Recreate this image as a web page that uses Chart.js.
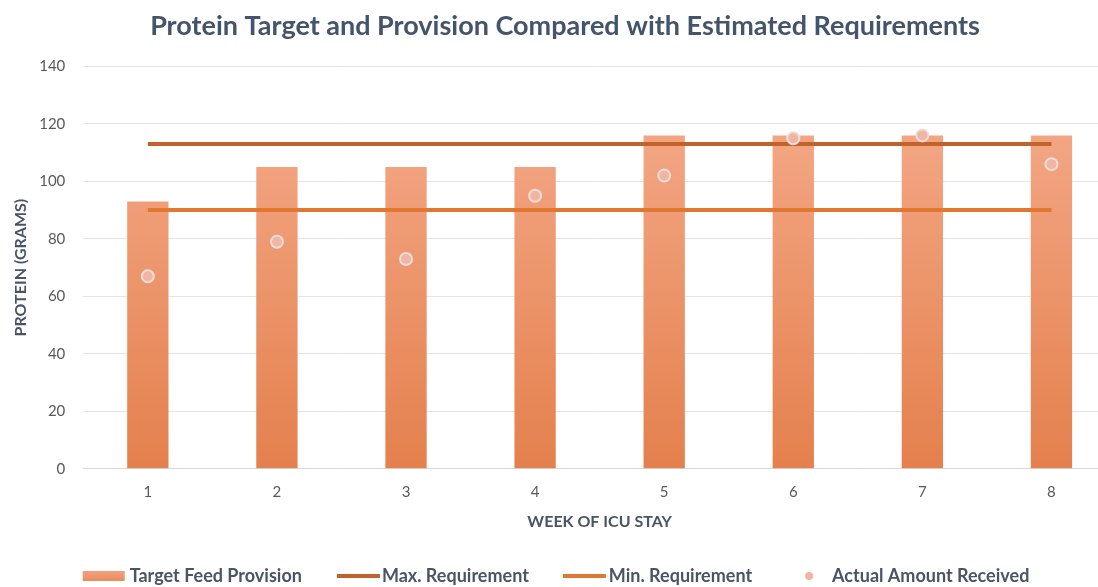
<!DOCTYPE html>
<html>
<head>
<meta charset="utf-8">
<script src="https://cdn.jsdelivr.net/npm/chart.js@4"></script>
<style>
  html, body { margin: 0; padding: 0; background: #fff; overflow: hidden; }
  #wrap { width: 1124px; height: 587px; }
</style>
</head>
<body>
<div id="wrap"><canvas id="protein-chart" width="1124" height="587"></canvas></div>
<script>
// --- DATA ---
const weeks = ['1', '2', '3', '4', '5', '6', '7', '8'];
const targetFeed = [93, 105, 105, 105, 116, 116, 116, 116];
const maxRequirement = [113, 113, 113, 113, 113, 113, 113, 113];
const minRequirement = [90, 90, 90, 90, 90, 90, 90, 90];
const actualReceived = [67, 79, 73, 95, 102, 115, 116, 106];
const yTicks = [0, 20, 40, 60, 80, 100, 120, 140];

const FONT = 'Lato, "Open Sans", sans-serif';
const TEXT_DARK = '#4A5466';
const MAX_COLOR = '#C1622B';
const MIN_COLOR = '#E2782F';
const POINT_FILL = '#F1B5A2';
const POINT_BORDER = '#E6DEDD';

function barGradient(context) {
    const chart = context.chart;
    const area = chart.chartArea;
    if (!area) return '#EE9A72';
    const g = chart.ctx.createLinearGradient(0, area.bottom, 0, area.top);
    g.addColorStop(0, '#E4804D');
    g.addColorStop(1, '#F6AD8E');
    return g;
}

// legend swatches: small canvases used as point styles (legend box is 20 wide, image 60)
const BOX_W = 20;
const IMG_W = 60;
function swatch(kind) {
    const c = document.createElement('canvas');
    c.width = IMG_W; c.height = 12;
    const x = c.getContext('2d');
    if (kind === 'bar') {
        const g = x.createLinearGradient(0, 12, 0, 0);
        g.addColorStop(0, '#E88A5A'); g.addColorStop(1, '#F3A483');
        x.fillStyle = g;
        x.fillRect(2, 1, 42, 10);
    } else if (kind === 'max') {
        x.fillStyle = MAX_COLOR;
        x.fillRect(4, 4, 43, 4);
    } else if (kind === 'min') {
        x.fillStyle = MIN_COLOR;
        x.fillRect(3, 4, 43, 4);
    } else {
        x.fillStyle = POINT_FILL;
        x.beginPath(); x.arc(26, 6, 4, 0, Math.PI * 2); x.fill();
    }
    return c;
}
const swatches = [swatch('bar'), swatch('max'), swatch('min'), swatch('pt')];

const ctx = document.getElementById('protein-chart').getContext('2d');
const proteinChart = new Chart(ctx, {
    data: {
        labels: weeks,
        datasets: [
            { type: 'bar', label: 'Target Feed Provision', data: targetFeed, backgroundColor: barGradient,
              barPercentage: 0.32, categoryPercentage: 1, order: 3 },
            { type: 'line', label: 'Max. Requirement', data: maxRequirement, borderColor: MAX_COLOR,
              borderWidth: 4, pointRadius: 0, order: 2 },
            { type: 'line', label: 'Min. Requirement', data: minRequirement, borderColor: MIN_COLOR,
              borderWidth: 4, pointRadius: 0, order: 1 },
            { type: 'line', label: 'Actual Amount Received', data: actualReceived, showLine: false,
              pointRadius: 6, pointBackgroundColor: POINT_FILL, pointBorderColor: POINT_BORDER,
              pointBorderWidth: 2, order: 0 }
        ]
    },
    options: {
        responsive: false,
        animation: false,
        layout: { padding: { top: 10, left: 11, right: 5, bottom: -8 } },
        plugins: {
            title: {
                display: true,
                text: 'Protein Target and Provision Compared with Estimated Requirements',
                color: '#44546A',
                font: { family: FONT, size: 27, weight: 'bold' },
                padding: { top: 0, bottom: 24 }
            },
            tooltip: { enabled: false },
            legend: {
                position: 'bottom',
                labels: {
                    usePointStyle: true,
                    pointStyleWidth: BOX_W,
                    boxHeight: 12,
                    padding: 51,
                    color: TEXT_DARK,
                    font: { family: FONT, size: 18, weight: 'bold' },
                    generateLabels: function(chart) {
                        return chart.data.datasets.map(function(ds, i) {
                            return {
                                text: ds.label, datasetIndex: i, pointStyle: swatches[i],
                                fillStyle: 'transparent', strokeStyle: 'transparent', lineWidth: 0,
                                fontColor: TEXT_DARK, hidden: false
                            };
                        });
                    }
                }
            }
        },
        scales: {
            x: {
                grid: { display: false, drawTicks: false },
                border: { display: true, color: '#D9D9D9', width: 1 },
                ticks: { color: '#595959', padding: 14, font: { family: FONT, size: 15 } },
                title: { display: true, text: 'WEEK OF ICU STAY', color: TEXT_DARK,
                         font: { family: FONT, size: 16, weight: 'bold' }, padding: { top: -3, bottom: -15 } }
            },
            y: {
                min: 0, max: 140,
                afterBuildTicks: function(axis) { axis.ticks = yTicks.map(v => ({ value: v })); },
                grid: { color: '#E4E4E4', drawTicks: false },
                border: { display: false },
                ticks: { color: '#595959', padding: 18, font: { family: FONT, size: 15 } },
                title: { display: true, text: 'PROTEIN (GRAMS)', color: TEXT_DARK,
                         font: { family: FONT, size: 16, weight: 'bold' }, padding: { top: 0, bottom: -9 } }
            }
        }
    }
});
</script>
</body>
</html>
